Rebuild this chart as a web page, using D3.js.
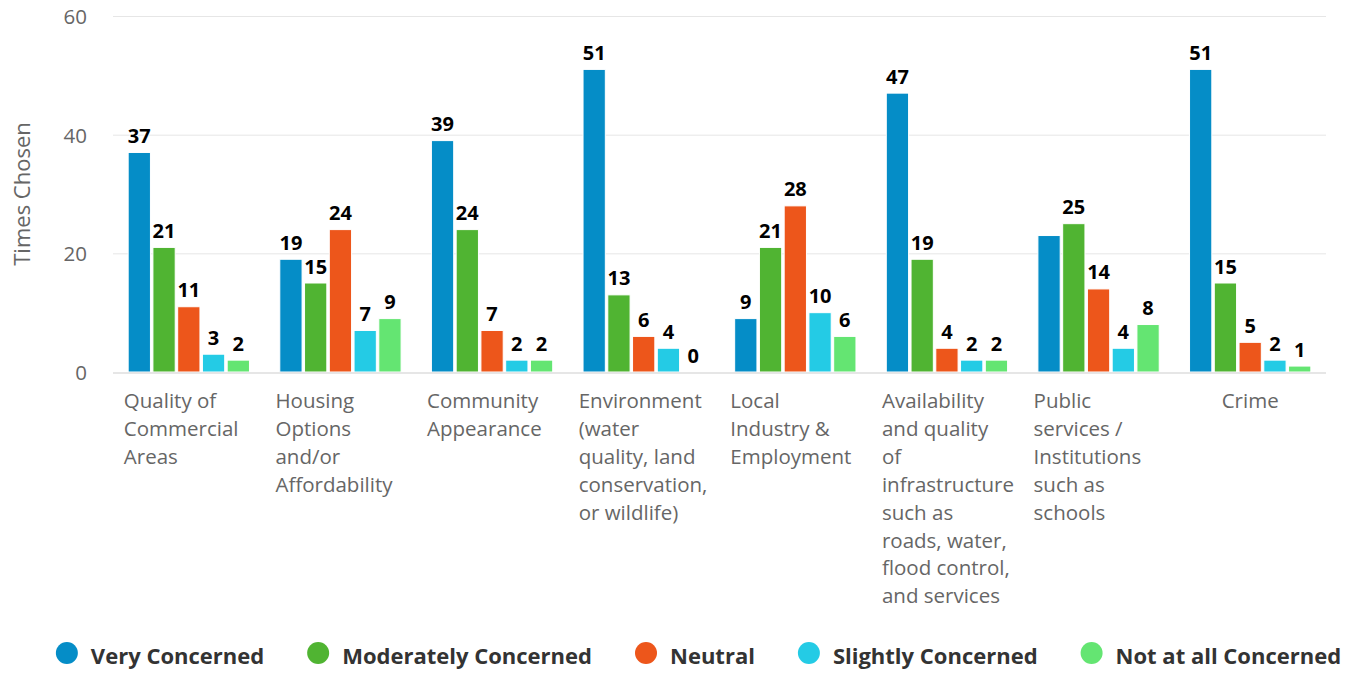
<!DOCTYPE html>
<html>
<head>
<meta charset="utf-8">
<script src="https://cdn.jsdelivr.net/npm/d3@7"></script>
<style>
  html, body { margin: 0; padding: 0; background: #fff; }
  svg { display: block; font-family: "Open Sans", "Noto Sans", sans-serif; }
</style>
</head>
<body>
<svg id="chart" width="1355" height="673"></svg>
<script>
// ---- data ----
const categoryLines = [
  ["Quality of", "Commercial", "Areas"],
  ["Housing", "Options", "and/or", "Affordability"],
  ["Community", "Appearance"],
  ["Environment", "(water", "quality, land", "conservation,", "or wildlife)"],
  ["Local", "Industry &", "Employment"],
  ["Availability", "and quality", "of", "infrastructure", "such as", "roads, water,", "flood control,", "and services"],
  ["Public", "services /", "Institutions", "such as", "schools"],
  ["Crime"]
];
const seriesNames = ["Very Concerned", "Moderately Concerned", "Neutral", "Slightly Concerned", "Not at all Concerned"];
const seriesColors = ["#058DC7", "#50B432", "#ED561B", "#24CBE5", "#64E572"];
const veryConcerned       = [37, 19, 39, 51, 9, 47, 23, 51];
const moderatelyConcerned = [21, 15, 24, 13, 21, 19, 25, 15];
const neutral             = [11, 24, 7, 6, 28, 4, 14, 5];
const slightlyConcerned   = [3, 7, 2, 4, 10, 2, 4, 2];
const notAtAllConcerned   = [2, 9, 2, 0, 6, 2, 8, 1];
const yTicks = [0, 20, 40, 60];
const yTitle = "Times Chosen";

const seriesValues = [veryConcerned, moderatelyConcerned, neutral, slightlyConcerned, notAtAllConcerned];
const categories = categoryLines.map(l => l.join(" "));

// ---- layout ----
const svg = d3.select("#chart");
const plot = { left: 113, right: 1326, top: 16, bottom: 372 };

const x0 = d3.scaleBand().domain(d3.range(categories.length)).range([plot.left, plot.right]).padding(0);
const bw = x0.bandwidth();
const x1 = d3.scaleBand().domain(d3.range(seriesNames.length))
  .range([bw * 0.1, bw * 0.9]).paddingInner(0.1).paddingOuter(0);
const y = d3.scaleLinear().domain([0, 60]).range([plot.bottom, plot.top]);

// gridlines
svg.append("g").selectAll("line").data(yTicks.filter(t => t !== 0)).join("line")
  .attr("x1", plot.left).attr("x2", plot.right)
  .attr("y1", d => y(d) + 0.5).attr("y2", d => y(d) + 0.5)
  .attr("stroke", "#e6e6e6").attr("stroke-width", 1);

// y tick labels
svg.append("g").selectAll("text").data(yTicks).join("text")
  .attr("x", 87).attr("y", d => y(d) + 8)
  .attr("text-anchor", "end")
  .attr("fill", "#666666").attr("font-size", 20.5)
  .text(d => d);

// y title
svg.append("text")
  .attr("transform", `translate(30,${(plot.top + plot.bottom) / 2}) rotate(-90)`)
  .attr("text-anchor", "middle").attr("fill", "#666666").attr("font-size", 22)
  .text(yTitle);

// bars
const barData = [];
categories.forEach((c, ci) => {
  seriesValues.forEach((vals, si) => {
    barData.push({ ci, si, v: vals[ci] });
  });
});

svg.append("g").selectAll("rect").data(barData).join("rect")
  .attr("x", d => x0(d.ci) + x1(d.si))
  .attr("width", x1.bandwidth())
  .attr("y", d => y(d.v))
  .attr("height", d => Math.max(0, y(0) - y(d.v)))
  .attr("fill", d => seriesColors[d.si])
  .attr("stroke", "#ffffff").attr("stroke-width", d => d.v > 0 ? 1 : 0);

// baseline
svg.append("line")
  .attr("x1", plot.left).attr("x2", plot.right)
  .attr("y1", plot.bottom + 1).attr("y2", plot.bottom + 1)
  .attr("stroke", "#e6e6e6").attr("stroke-width", 2);

// data labels with overlap hiding (higher values take priority)
const labelG = svg.append("g");
const labels = barData.map(d => {
  const cx = x0(d.ci) + x1(d.si) + x1.bandwidth() / 2;
  const base = y(d.v) - 9.5;
  const t = labelG.append("text")
    .attr("x", cx).attr("y", base)
    .attr("text-anchor", "middle")
    .attr("font-size", 20).attr("font-weight", "bold")
    .attr("fill", "#000000")
    .attr("stroke", "#ffffff").attr("stroke-width", 2).attr("stroke-linejoin", "round")
    .attr("paint-order", "stroke")
    .text(d.v);
  const w = t.node().getComputedTextLength();
  return { d, t, box: { x0: cx - w / 2 - 4, x1: cx + w / 2 + 4, y0: base - 14.5, y1: base } };
});
const placed = [];
labels.slice().sort((a, b) => b.d.v - a.d.v).forEach(l => {
  const hit = placed.some(p => l.box.x0 < p.box.x1 && l.box.x1 > p.box.x0 && l.box.y0 < p.box.y1 && l.box.y1 > p.box.y0);
  if (hit) l.t.remove(); else placed.push(l);
});

// x axis labels
const xl = svg.append("g");
categoryLines.forEach((lines, ci) => {
  const cx = x0(ci) + bw / 2;
  const single = lines.length === 1;
  const t = xl.append("text")
    .attr("x", single ? cx : cx - 65)
    .attr("y", 408)
    .attr("text-anchor", single ? "middle" : "start")
    .attr("fill", "#666666").attr("font-size", 20.5);
  lines.forEach((ln, i) => {
    t.append("tspan").attr("x", single ? cx : cx - 65).attr("y", 408 + i * 27.9).text(ln);
  });
});

// legend
const lg = svg.append("g");
const items = seriesNames.map((name, i) => {
  const g = lg.append("g");
  g.append("circle").attr("cx", 11).attr("cy", 0).attr("r", 11).attr("fill", seriesColors[i]);
  const t = g.append("text").attr("x", 35).attr("y", 10.5)
    .attr("font-size", 22).attr("font-weight", "bold").attr("fill", "#333333").text(name);
  const w = 35 + t.node().getComputedTextLength();
  return { g, w };
});
const gap = 43;
const total = d3.sum(items, it => it.w) + gap * (items.length - 1);
let lx = 698.5 - total / 2;
items.forEach(it => {
  it.g.attr("transform", `translate(${lx},653)`);
  lx += it.w + gap;
});
</script>
</body>
</html>
